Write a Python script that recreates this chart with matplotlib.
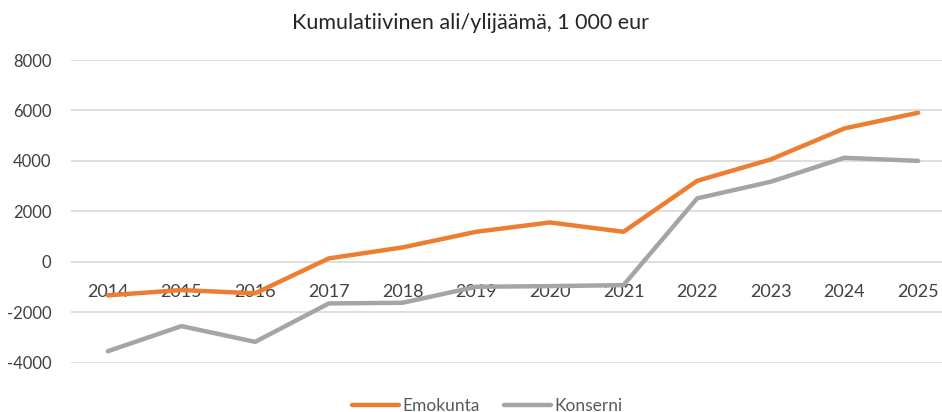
import matplotlib
matplotlib.use("Agg")
import matplotlib.pyplot as plt

# Kumulatiivinen ali/ylijäämä, 1 000 eur
vuodet = ["2014", "2015", "2016", "2017", "2018", "2019", "2020", "2021",
          "2022", "2023", "2024", "2025"]
emokunta = [-1330, -1120, -1250, 135, 570, 1190, 1560, 1190, 3210, 4060, 5290, 5910]
konserni = [-3545, -2550, -3175, -1650, -1625, -990, -965, -925, 2515, 3175, 4125, 4000]
y_ticks = [-4000, -2000, 0, 2000, 4000, 6000, 8000]

plt.rcParams['font.family'] = ['Lato', 'DejaVu Sans']

fig = plt.figure(figsize=(9.42, 4.12), dpi=100)
ax = fig.add_axes([71 / 942, 0.1197, (955 - 71) / 942, 0.7346])

x = range(len(vuodet))
ax.plot(x, emokunta, color='#ED7D31', lw=3.2, label='Emokunta', solid_capstyle='round')
ax.plot(x, konserni, color='#A5A5A5', lw=3.2, label='Konserni', solid_capstyle='round')

ax.set_xlim(-0.5, len(vuodet) - 0.5)
ax.set_ylim(-4000, 8000)
ax.set_yticks(y_ticks)
ax.set_yticklabels([str(v) for v in y_ticks], fontsize=12, color='#404040')
ax.grid(axis='y', color='#D9D9D9', lw=1.2)
ax.set_axisbelow(True)

ax.spines['bottom'].set_position(('data', 0))
for s in ax.spines.values():
    s.set_visible(False)
ax.set_xticks(list(x))
ax.set_xticklabels(vuodet, fontsize=13, color='#404040')
ax.tick_params(axis='both', length=0)
ax.tick_params(axis='x', pad=16)
ax.tick_params(axis='y', pad=14)

fig.text(0.5, 0.943, 'Kumulatiivinen ali/ylijäämä, 1 000 eur', ha='center', va='center',
         fontsize=15.5, color='#262626')

fig.legend(loc='center', bbox_to_anchor=(0.517, 0.014), ncol=2, frameon=False,
           fontsize=12.5, handlelength=2.7, handletextpad=0.2, columnspacing=1.4,
           labelcolor='#595959')

fig.savefig('out.png', dpi=100)
